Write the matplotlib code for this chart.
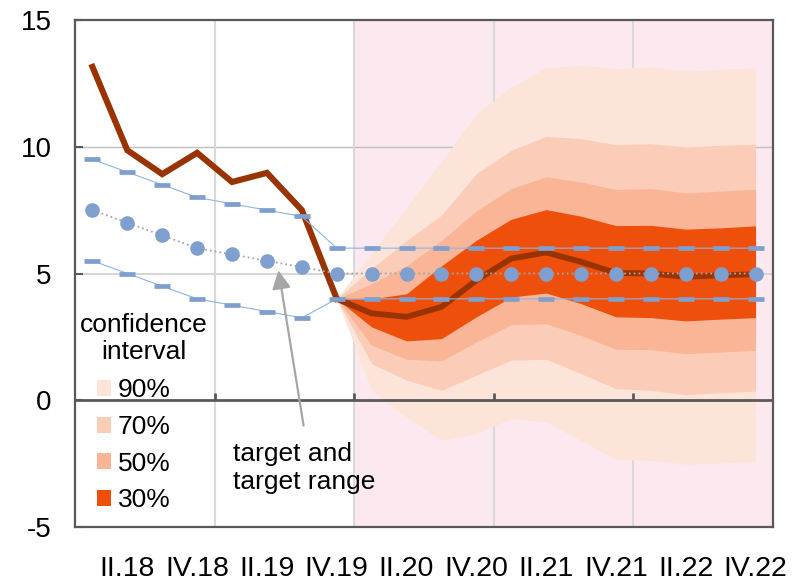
import numpy as np
import matplotlib
matplotlib.use('Agg')
import matplotlib.pyplot as plt
from matplotlib.patches import Patch

plt.rcParams['font.family'] = ['Liberation Sans', 'DejaVu Sans']

# Quarters I.18 .. IV.22
quarters = ['I.18', 'II.18', 'III.18', 'IV.18', 'I.19', 'II.19', 'III.19', 'IV.19',
            'I.20', 'II.20', 'III.20', 'IV.20', 'I.21', 'II.21', 'III.21', 'IV.21',
            'I.22', 'II.22', 'III.22', 'IV.22']

# actual values I.18 .. IV.19
actual = [13.15, 9.86, 8.92, 9.76, 8.61, 8.97, 7.5, 4.0]

# central forecast IV.19 .. IV.22
forecast = [4.0, 3.43, 3.29, 3.68, 4.73, 5.59, 5.83, 5.46, 5.02, 5.0, 4.87, 4.93, 4.97]

# confidence bands IV.19 .. IV.22
upper90 = [4.0, 5.8, 7.6, 9.4, 11.3, 12.36, 13.11, 13.21, 13.08, 13.15, 12.98, 13.06, 13.11]
upper70 = [4.0, 5.2, 6.3, 7.3, 8.94, 9.86, 10.41, 10.32, 10.08, 10.12, 9.99, 10.06, 10.1]
upper50 = [4.0, 4.6, 5.3, 6.3, 7.47, 8.35, 8.81, 8.61, 8.31, 8.35, 8.18, 8.25, 8.32]
upper30 = [4.0, 4.0, 4.2, 5.3, 6.31, 7.14, 7.52, 7.26, 6.89, 6.9, 6.75, 6.8, 6.88]
lower30 = [4.0, 2.89, 2.34, 2.43, 3.29, 4.07, 4.23, 3.81, 3.29, 3.26, 3.13, 3.2, 3.26]
lower50 = [4.0, 2.17, 1.62, 1.55, 2.3, 2.98, 3.02, 2.56, 2.01, 2.0, 1.84, 1.9, 1.97]
lower70 = [4.0, 1.45, 0.79, 0.39, 0.99, 1.58, 1.62, 1.05, 0.46, 0.39, 0.22, 0.3, 0.36]
lower90 = [4.0, 0.39, -0.66, -1.58, -1.31, -0.72, -0.85, -1.58, -2.33, -2.37, -2.52, -2.47, -2.41]

# target and target range I.18 .. IV.22
target = [7.5, 7.0, 6.5, 6.0, 5.75, 5.5, 5.25, 5.0, 5.0, 5.0, 5.0, 5.0, 5.0, 5.0,
          5.0, 5.0, 5.0, 5.0, 5.0, 5.0]
target_hi = [9.5, 9.0, 8.5, 8.0, 7.75, 7.5, 7.25, 6.0, 6.0, 6.0, 6.0, 6.0, 6.0, 6.0,
             6.0, 6.0, 6.0, 6.0, 6.0, 6.0]
target_lo = [5.5, 5.0, 4.5, 4.0, 3.75, 3.5, 3.25, 4.0, 4.0, 4.0, 4.0, 4.0, 4.0, 4.0,
             4.0, 4.0, 4.0, 4.0, 4.0, 4.0]

band_colors = {'90%': '#FDE4D9', '70%': '#FBCCB7', '50%': '#F9B596', '30%': '#EE500C'}
dark = '#993300'
blue = '#7F9FCF'
axcol = '#595959'

x_all = np.arange(len(quarters))
x_hist = x_all[:len(actual)]
x_fc = x_all[len(actual) - 1:]

fig = plt.figure(figsize=(8.01, 5.84), dpi=100)
ax = fig.add_axes([75 / 801, 57 / 584, 698 / 801, 507 / 584])

ax.set_xlim(-0.5, len(quarters) - 0.5)
ax.set_ylim(-5, 15)

# forecast period shading and grid
ax.axvspan(7.5, len(quarters) - 0.5, color='#FBE9EF', zorder=0, lw=0)
ax.axhline(10, color='#BFBFBF', lw=1, zorder=1)
ax.axhline(5, color='#D0D0D0', lw=1.2, zorder=1)
year_bounds = [3.5, 7.5, 11.5, 15.5]
for xv in year_bounds:
    ax.axvline(xv, color='#D9D9D9', lw=1.5, zorder=1)

# fan chart
ax.fill_between(x_fc, lower90, upper90, color=band_colors['90%'], lw=0, zorder=2)
ax.fill_between(x_fc, lower70, upper70, color=band_colors['70%'], lw=0, zorder=2)
ax.fill_between(x_fc, lower50, upper50, color=band_colors['50%'], lw=0, zorder=2)
ax.fill_between(x_fc, lower30, upper30, color=band_colors['30%'], lw=0, zorder=2)

# zero axis with year ticks
ax.axhline(0, color=axcol, lw=2, zorder=3)
ax.vlines(year_bounds, 0, 0.3, color=axcol, lw=2, zorder=3)

# main line
ax.plot(x_hist, actual, color=dark, lw=4.4, solid_joinstyle='miter', zorder=4)
ax.plot(x_fc, forecast, color=dark, lw=4.2, zorder=4)

# target range
ax.plot(x_all, target_hi, color='#8EB4E3', lw=0.8, marker='_', ms=11, mew=3.4,
        mec=blue, zorder=5)
ax.plot(x_all, target_lo, color='#8EB4E3', lw=0.8, marker='_', ms=11, mew=3.4,
        mec=blue, zorder=5)
ax.plot(x_all, target, color='#A6A6A6', lw=1.3, ls=':', marker='o', ms=9.5,
        mfc=blue, mec=blue, zorder=6)

# axes styling
for s in ax.spines.values():
    s.set_color(axcol)
    s.set_linewidth(1.6)
ax.set_yticks([-5, 0, 5, 10, 15])
ax.set_yticklabels(['-5', '0', '5', '10', '15'])
ax.tick_params(axis='y', direction='in', length=6, width=1.5, color=axcol,
               labelsize=20, pad=17)
ax.set_xticks(x_all[1::2])
ax.set_xticklabels(quarters[1::2])
ax.tick_params(axis='x', length=0, labelsize=20.5, pad=21)

# annotation
ax.annotate('', xy=(5.33, 5.13), xytext=(6.05, -1.0),
            arrowprops=dict(arrowstyle='-|>', color='#A6A6A6', lw=1.6,
                            mutation_scale=28, shrinkA=0, shrinkB=0), zorder=7)
ax.text(4.04, -2.66, 'target and\ntarget range', fontsize=19, ha='left',
        va='center', linespacing=1.2, zorder=7)

# legend
ax.text(1.46, 2.45, 'confidence\ninterval', fontsize=19, ha='center', va='center',
        multialignment='center', linespacing=1.15, zorder=7)
handles = [Patch(facecolor=band_colors[k], edgecolor='none', label=k)
           for k in ['90%', '70%', '50%', '30%']]
ax.legend(handles=handles, loc='upper left', bbox_to_anchor=(0.031, 0.293),
          frameon=False, fontsize=19, handlelength=0.55, handleheight=0.55,
          handletextpad=0.25, labelspacing=0.48, borderpad=0, borderaxespad=0)

fig.savefig('out.png', dpi=100)
